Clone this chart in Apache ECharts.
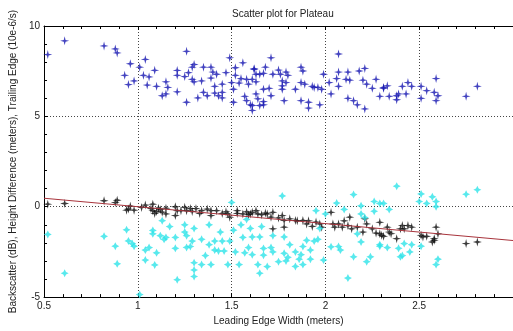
<!DOCTYPE html>
<html><head><meta charset="utf-8">
<script src="https://cdn.jsdelivr.net/npm/echarts@6/dist/echarts.min.js"></script>
<style>html,body{margin:0;padding:0;background:#fff}#c{width:513px;height:331px}</style>
</head><body><div id="c"></div>
<script>
const titleText = 'Scatter plot for Plateau';
const xName = 'Leading Edge Width (meters)';
const yName = 'Backscatter (dB), Height Difference (meters), Trailing Edge (10e-6/s)';
const xTicks = [0.5, 1, 1.5, 2, 2.5, 3];
const yTicks = [-5, 0, 5, 10];

const trailingEdge = [[0.52,8.42],[0.61,9.18],[0.82,8.9],[0.88,8.73],[0.89,8.51],[0.96,7.91],[0.93,7.27],[0.95,6.76],[0.98,6.96],[1.01,7.72],[1.04,8.15],[1.03,7.27],[1.06,7.18],[1.09,7.55],[1.05,6.73],[1.1,6.66],[1.15,6.91],[1.16,6.6],[1.13,6.14],[1.15,6.24],[1.21,7.54],[1.21,7.27],[1.21,6.36],[1.26,5.78],[1.26,8.6],[1.25,7.2],[1.27,7.42],[1.29,7.72],[1.3,7.87],[1.29,7.05],[1.3,6.91],[1.32,6.02],[1.35,7.72],[1.35,6.33],[1.37,6.14],[1.34,6.96],[1.39,7.72],[1.4,7.45],[1.42,7.33],[1.39,7.12],[1.41,6.66],[1.43,6.14],[1.41,6.29],[1.45,6.78],[1.45,6.33],[1.45,6.02],[1.47,7.42],[1.49,8.24],[1.5,6.87],[1.51,6.5],[1.52,7.69],[1.52,7.27],[1.51,5.78],[1.54,6.84],[1.55,7.09],[1.56,7.96],[1.58,7.05],[1.59,6.78],[1.57,6.11],[1.58,5.87],[1.6,5.64],[1.61,5.33],[1.62,7.64],[1.63,7.33],[1.62,7.6],[1.61,7.05],[1.63,6.91],[1.63,6.24],[1.64,5.97],[1.65,5.6],[1.61,5.6],[1.65,7.33],[1.67,7.38],[1.68,7.72],[1.67,6.5],[1.67,5.82],[1.67,5.64],[1.7,6.55],[1.71,8.24],[1.71,6.14],[1.72,7.33],[1.75,7.56],[1.76,7.33],[1.77,6.69],[1.77,6.96],[1.78,5.87],[1.79,7.45],[1.8,7.27],[1.79,6.87],[1.77,6.5],[1.84,6.5],[1.87,5.87],[1.87,7.72],[1.88,7.51],[1.87,6.87],[1.89,6.78],[1.91,5.78],[1.91,5.46],[1.93,6.66],[1.94,6.6],[1.96,6.6],[1.97,5.64],[1.98,6.5],[1.99,7.33],[2.02,6.87],[2.03,6.24],[2.07,8.45],[2.07,7.45],[2.06,7.09],[2.07,6.66],[2.12,7.45],[2.11,7.05],[2.13,7.0],[2.12,6.0],[2.15,5.87],[2.17,5.64],[2.18,7.51],[2.2,7.0],[2.21,7.65],[2.21,5.41],[2.22,6.78],[2.25,6.55],[2.27,7.05],[2.29,6.11],[2.31,6.55],[2.31,6.6],[2.33,6.69],[2.34,6.11],[2.38,6.14],[2.38,5.92],[2.39,6.24],[2.41,6.66],[2.43,6.24],[2.44,6.87],[2.46,6.66],[2.51,6.66],[2.51,6.0],[2.54,6.42],[2.59,7.09],[2.58,6.33],[2.6,6.14],[2.59,5.87],[2.75,6.11],[2.81,6.66]];

const heightDiff = [[0.52,0.14],[0.61,0.18],[0.82,0.33],[0.88,0.23],[0.89,0.36],[0.96,0.03],[0.94,-0.19],[0.98,-0.19],[1.02,-0.04],[1.04,0.09],[1.08,0.14],[1.07,-0.1],[1.09,-0.37],[1.13,-0.3],[1.11,-0.08],[1.15,-0.4],[0.95,-0.13],[1.08,-0.22],[1.1,-0.27],[1.12,-0.16],[1.15,-0.08],[1.2,0.0],[1.21,-0.22],[1.2,-0.49],[1.23,-0.22],[1.25,-0.03],[1.26,-0.22],[1.28,-0.1],[1.29,-0.26],[1.31,-0.1],[1.33,-0.37],[1.34,-0.22],[1.37,-0.13],[1.39,-0.22],[1.39,-0.49],[1.42,-0.22],[1.45,-0.37],[1.47,-0.28],[1.48,-0.4],[1.49,-0.58],[1.53,-0.22],[1.53,-0.37],[1.56,-0.4],[1.58,-0.28],[1.59,-0.44],[1.6,-0.4],[1.61,-0.31],[1.63,-0.22],[1.64,-0.4],[1.66,-0.44],[1.68,-0.35],[1.69,-0.4],[1.71,-0.58],[1.72,-0.31],[1.72,-1.22],[1.75,-0.62],[1.77,-0.49],[1.78,-0.76],[1.78,-1.13],[1.81,-0.67],[1.84,-0.76],[1.85,-0.78],[1.88,-0.76],[1.9,-0.95],[1.91,-0.78],[1.93,-1.09],[1.95,-0.85],[1.97,-0.95],[1.98,-1.13],[2.03,-0.31],[2.04,-0.95],[2.05,-1.13],[2.07,-0.95],[2.09,-1.13],[2.1,-0.78],[2.12,-1.04],[2.13,-0.58],[2.14,-1.22],[2.17,-1.13],[2.2,-1.4],[2.21,-0.67],[2.22,-0.95],[2.25,-1.22],[2.27,-1.46],[2.29,-0.86],[2.29,-1.5],[2.3,-1.58],[2.31,-1.64],[2.33,-1.13],[2.34,-1.4],[2.35,-1.49],[2.38,-1.77],[2.4,-1.22],[2.41,-1.04],[2.42,-1.22],[2.44,-1.04],[2.46,-1.13],[2.51,-1.58],[2.52,-1.67],[2.54,-1.64],[2.57,-1.95],[2.58,-1.86],[2.58,-1.77],[2.59,-1.13],[2.6,-1.5],[2.75,-2.04],[2.81,-1.95]];

const backscatter = [[0.52,-1.53],[0.61,-3.68],[0.82,-1.64],[0.88,-2.18],[0.89,-3.16],[0.94,-1.28],[0.95,-1.89],[0.97,-2.04],[0.98,-2.18],[1.01,-4.86],[1.04,-2.4],[1.06,-2.26],[1.04,-2.95],[1.09,-3.22],[1.1,-2.55],[1.08,-1.31],[1.08,-1.5],[1.13,-0.77],[1.12,-1.6],[1.14,-1.8],[1.15,-1.7],[1.17,-1.1],[1.2,-1.7],[1.2,-2.3],[1.21,-4.04],[1.25,-1.0],[1.25,-1.4],[1.26,-1.6],[1.26,-2.25],[1.28,-2.2],[1.29,-1.9],[1.3,-1.2],[1.3,-3.1],[1.3,-3.5],[1.3,-3.86],[1.34,-1.8],[1.34,-3.2],[1.36,-2.7],[1.38,-1.0],[1.38,-2.1],[1.39,-3.2],[1.41,-1.9],[1.41,-2.4],[1.43,-2.45],[1.44,-1.4],[1.45,-1.9],[1.46,-2.45],[1.48,-3.2],[1.49,-1.9],[1.5,0.24],[1.51,-1.3],[1.52,-2.5],[1.54,-3.2],[1.55,-1.0],[1.56,-1.7],[1.57,-2.55],[1.58,-0.7],[1.59,-2.26],[1.61,-1.67],[1.6,-1.2],[1.61,-2.65],[1.64,-3.2],[1.65,-1.67],[1.65,-3.68],[1.66,-1.1],[1.67,-2.31],[1.67,-2.68],[1.69,-3.31],[1.71,-2.26],[1.72,-2.5],[1.72,-1.6],[1.75,-3.04],[1.77,0.6],[1.78,-1.67],[1.78,-2.58],[1.79,-3.0],[1.8,-2.8],[1.81,-2.1],[1.84,-2.5],[1.84,-3.3],[1.86,-2.9],[1.87,-2.65],[1.88,-3.2],[1.88,-2.2],[1.9,-1.86],[1.92,-2.4],[1.92,-2.9],[1.94,-1.9],[1.95,-0.22],[1.96,-1.8],[1.97,-1.2],[1.99,-2.95],[2.0,-0.4],[2.03,-2.22],[2.06,0.2],[2.07,-2.2],[2.08,-2.4],[2.1,-0.15],[2.12,-3.95],[2.15,-2.77],[2.15,0.67],[2.17,-1.5],[2.19,-1.95],[2.19,0.05],[2.19,-0.4],[2.21,-0.6],[2.22,-3.04],[2.24,-2.77],[2.26,0.29],[2.26,-0.25],[2.29,0.18],[2.29,-2.1],[2.31,0.18],[2.34,-0.15],[2.29,-2.18],[2.33,-2.26],[2.38,1.14],[2.39,-2.3],[2.4,-2.77],[2.41,-2.7],[2.42,-2.04],[2.45,-2.5],[2.46,-2.1],[2.51,-2.18],[2.51,0.71],[2.5,0.29],[2.54,0.18],[2.57,0.55],[2.59,0.29],[2.59,0.0],[2.6,-2.9],[2.59,-3.2],[2.75,0.69],[2.81,0.94]];

const fitLine = [[0.5,0.47],[3,-1.87]];

const FONT = "'Liberation Sans', Arial, sans-serif";
const thinStar = 'path://M5,0 L6,4 L10,5 L6,6 L5,10 L4,6 L0,5 L4,4 Z';
const fatStar = 'path://M5,0 L6.7,3.3 L10,5 L6.7,6.7 L5,10 L3.3,6.7 L0,5 L3.3,3.3 Z';

const chart = echarts.init(document.getElementById('c'), null, {renderer:'canvas'});
const gridLine = {show:true, lineStyle:{color:'#444', type:[1,2], width:1}};
chart.setOption({
  animation:false,
  backgroundColor:'#fff',
  title:{text:titleText, left:227, top:4, textStyle:{fontFamily:FONT, fontSize:10, fontWeight:'normal', color:'#222'}},
  grid:{left:39, top:26, width:479, height:275, containLabel:false},
  xAxis:[{
    type:'value', min:xTicks[0], max:xTicks[xTicks.length-1], interval:0.5, position:'bottom',
    name:xName, nameLocation:'middle', nameGap:17,
    nameTextStyle:{fontFamily:FONT, fontSize:10, color:'#222'},
    axisLine:{show:true, onZero:false, lineStyle:{color:'#000', width:1}},
    axisTick:{show:true, inside:true, length:4, lineStyle:{color:'#000'}},
    minorTick:{show:true, splitNumber:5, length:3, lineStyle:{color:'#000'}},
    axisLabel:{fontFamily:FONT, fontSize:10, color:'#222', margin:4, showMaxLabel:false},
    splitLine:gridLine
  },{
    type:'value', min:xTicks[0], max:xTicks[xTicks.length-1], interval:0.5, position:'top',
    axisLine:{show:true, onZero:false, lineStyle:{color:'#000', width:1}},
    axisTick:{show:true, inside:true, length:4, lineStyle:{color:'#000'}},
    minorTick:{show:true, splitNumber:5, length:3, lineStyle:{color:'#000'}},
    axisLabel:{show:false}, splitLine:{show:false}
  }],
  yAxis:[{
    type:'value', min:yTicks[0], max:yTicks[yTicks.length-1], interval:5,
    name:yName, nameLocation:'middle', nameGap:16,
    nameTextStyle:{fontFamily:FONT, fontSize:10, color:'#222'},
    axisLine:{show:true, onZero:false, lineStyle:{color:'#000', width:1}},
    axisTick:{show:true, inside:true, length:4, lineStyle:{color:'#000'}},
    minorTick:{show:true, splitNumber:5, length:3, lineStyle:{color:'#000'}},
    axisLabel:{fontFamily:FONT, fontSize:10, color:'#222', margin:4},
    splitLine:gridLine
  }],
  series:[
    {type:'scatter', name:'Trailing Edge', data:trailingEdge, symbol:thinStar, symbolSize:9, itemStyle:{color:'#1414b0'}, z:2},
    {type:'scatter', name:'Height Difference', data:heightDiff, symbol:thinStar, symbolSize:9, itemStyle:{color:'#0a0a0a'}, z:2},
    {type:'scatter', name:'Backscatter', data:backscatter, symbol:fatStar, symbolSize:8, itemStyle:{color:'#2ee4e8'}, z:3},
    {type:'line', name:'Fit', data:fitLine, showSymbol:false, symbol:'none', lineStyle:{color:'#a8343c', width:1}, z:4}
  ]
});
</script></body></html>
